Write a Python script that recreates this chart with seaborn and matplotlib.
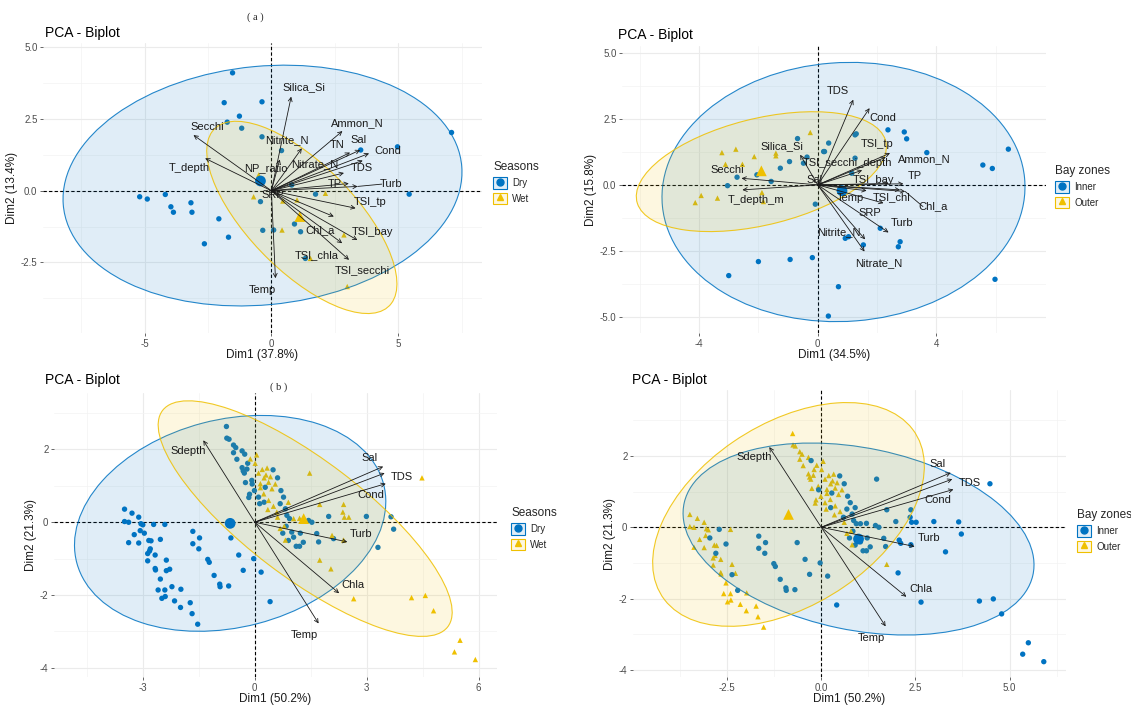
import numpy as np
import pandas as pd
import matplotlib
matplotlib.use("Agg")
import matplotlib.pyplot as plt
import seaborn as sns
from matplotlib.patches import Ellipse, Rectangle
from matplotlib.lines import Line2D
from matplotlib.legend_handler import HandlerTuple
from matplotlib.colors import to_rgba

sns.set_style("white")
plt.rcParams["font.family"] = ["Liberation Sans", "DejaVu Sans"]

BLUE = "#0073C2"
YELLOW = "#EFC000"

# ---------------- Panel A (top-left, Seasons) ----------------
a_dry_x = [-1.53, -1.86, -0.37, -1.26, -1.74, -1.17, -0.37, 0.40, 0.80, 1.74, 5.43, 4.97, 3.52, 7.10,
           -5.19, -4.89, -4.18, -3.96, -3.86, -3.17, -3.13, -2.07, -1.69, -2.64, -0.34, -0.43, 0.91, 1.15, 0.09, 1.34]
a_dry_y = [4.11, 3.07, 3.10, 2.60, 2.39, 2.18, 1.88, 1.40, 0.20, -0.12, -0.12, 1.53, 1.42, 2.03,
           -0.21, -0.29, -0.13, -0.56, -0.75, -0.42, -0.75, -0.98, -1.62, -1.85, -1.38, -0.38, -1.16, -1.43, -1.37, -2.36]
a_wet_x = [-0.70, -0.50, 0.45, 1.01, 2.13, 0.42, 1.54, 2.86, 2.99]
a_wet_y = [-0.21, 0.55, -0.36, -0.32, -0.09, -1.37, -2.36, -1.54, -3.34]
a_groups = ["Dry", "Wet"]
a_mean_x = [-0.43, 1.12]
a_mean_y = [0.34, -0.90]
a_ell_cx = [-0.35, 1.20]
a_ell_cy = [0.18, -0.93]
a_ell_a = [7.88, 4.63]
a_ell_b = [4.16, 1.96]
a_ell_ang = [4.75, -40.4]
a_vars = ["Silica_Si", "Ammon_N", "Nitrite_N", "TN", "Sal", "Cond", "TDS", "Nitrate_N", "NP_ratio",
          "TP", "Turb", "TSI_tp", "Chl_a", "TSI_bay", "TSI_chla", "TSI_secchi", "Temp", "Secchi", "T_depth", "SRP"]
a_load_x = [0.78, 2.80, 1.20, 3.10, 3.50, 3.85, 3.60, 2.86, 0.33, 3.05, 3.40, 3.32, 2.46, 3.39, 2.79, 3.06, 0.16, -3.07, -2.61, 0.15]
a_load_y = [3.28, 2.08, 1.48, 1.33, 1.42, 1.30, 1.05, 0.62, 1.09, 0.25, 0.15, -0.61, -0.90, -1.72, -1.83, -2.41, -3.05, 1.94, 1.13, -0.08]

# ---------------- Panel B (top-right, Bay zones) ----------------
b_inner_x = [-0.68, -0.36, 0.20, -2.05, -1.26, -0.95, -0.48, -2.72, -3.04, -1.57, -0.08, -2.00, -0.93, -0.18, -3.00,
             1.26, 1.30, 2.37, 2.92, 3.00, 3.68, 6.43, 5.57, 5.89, 0.37, 0.23, 1.26, 1.15, 2.11, 2.78, 2.72,
             0.93, 1.04, 1.54, 0.70, 0.36, 5.98]
b_inner_y = [1.75, 1.05, 1.26, 0.38, 0.63, 0.88, 0.82, 0.29, -0.03, 0.13, -0.73, -2.90, -2.82, -2.75, -3.43,
             1.89, 1.93, 2.08, 2.00, 1.74, 1.22, 1.35, 0.75, 0.62, 1.58, 1.26, 1.01, 0.44, -1.64, -2.15, -2.34,
             -2.02, -1.96, -2.27, -3.85, -4.96, -3.57]
b_outer_x = [-0.25, -1.41, -1.41, -2.14, -2.76, -3.23, -3.11, -2.54, -1.88, -1.83, -3.38, -3.93, -4.13]
b_outer_y = [1.98, 1.10, 1.20, 1.07, 1.35, 1.22, 0.78, 0.78, -0.29, -0.63, -0.50, -0.40, -0.67]
b_groups = ["Inner", "Outer"]
b_mean_x = [0.82, -1.90]
b_mean_y = [-0.22, 0.53]
b_ell_cx = [0.87, -1.90]
b_ell_cy = [-0.27, 0.50]
b_ell_a = [6.13, 4.35]
b_ell_b = [4.89, 2.00]
b_ell_ang = [5.0, 16.0]
b_vars = ["TDS", "Cond", "TSI_tp", "Ammon_N", "TSI_secchi_depth", "TSI_bay", "TP", "TSI_chl", "Chl_a",
          "Temp", "SRP", "Turb", "Nitrite_N", "Nitrate_N", "Silica_Si", "Secchi", "T_depth_m", "Sal"]
b_load_x = [1.20, 1.75, 2.44, 2.30, 1.50, 2.40, 2.89, 2.78, 2.95, 1.65, 2.22, 2.39, 1.60, 1.58, -0.59, -2.57, -2.54, 0.15]
b_load_y = [3.22, 2.90, 1.20, 1.05, 0.55, 0.05, 0.04, -0.19, -0.25, -0.22, -0.69, -1.80, -2.06, -2.52, 1.14, 0.25, -0.19, 0.08]

# ---------------- Panels C / D (bottom, same PCA) ----------------
dry_outer_x = [-3.49, -3.29, -3.11, -3.49, -3.38, -3.05, -3.00, -2.41, -3.07, -3.23, -3.38, -3.11, -2.84, -2.78, -2.82,
               -2.87, -2.67, -2.87, -2.37, -2.67, -2.66, -2.28, -2.53, -2.59, -2.41, -1.98, -2.49, -2.40, -2.15, -1.99,
               -1.73, -1.68, -1.53,
               -0.76, -0.75, -0.69, -0.57, -0.51, -0.57, -0.34, -0.48, -0.34, -0.31, -0.21, -0.25, -0.14, -0.16,
               -0.19, -0.28, -0.08, -0.01, 0.10, 0.13]
dry_outer_y = [0.36, 0.25, 0.14, 0.02, 0.00, -0.04, -0.07, -0.06, -0.23, -0.34, -0.56, -0.57, -0.50, -0.51, -0.79,
               -0.86, -0.90, -1.06, -1.04, -1.27, -1.31, -1.29, -1.56, -1.86, -1.86, -1.84, -2.09, -2.04, -2.16, -2.34,
               -2.21, -2.51, -2.80,
               2.63, 2.31, 2.28, 2.12, 2.05, 1.91, 1.96, 1.73, 1.50, 1.41, 1.46, 1.09, 0.77, 0.68,
               1.62, 1.35, 1.15, 0.87, 0.69, 0.51]
dry_inner_x = [-2.71, -2.96, -2.53, -2.80, -2.37, -2.22,
               -1.66, -1.48, -1.66, -1.50, -1.26, -1.22, -1.09, -0.94, -0.93, -0.70, -0.64, -0.43, -0.31, -0.03, 0.17, 0.41,
               -0.27, -0.07, 0.25, 0.28, 0.49, 0.61, 0.70, 0.77, 0.68, 0.82,
               0.86, 0.93, 0.84, 0.99, 1.04, 1.11, 1.20, 1.22, 1.44, 1.53, 1.66, 1.71, 1.98, 2.11, 2.99, 3.65, 3.72, 3.30,
               0.90, 1.30, 0.75]
dry_inner_y = [-0.06, -0.30, -0.47, -0.73, -1.33, -1.77,
               -0.25, -0.43, -0.59, -0.73, -1.02, -1.10, -1.46, -1.70, -1.77, -1.75, -0.43, -0.90, -1.32, -1.00, -1.37, -2.18,
               1.87, 1.05, 0.55, 0.96, 1.44, 1.22, 0.87, 0.69, 0.51, 0.37,
               0.19, 0.10, -0.11, -0.27, -0.41, -0.66, -0.66, -0.30, 0.05, 0.00, -0.31, -0.54, 0.16, -0.45, 0.16, 0.15, -0.19, -0.69,
               -0.50, -0.55, -0.30]
wet_outer_x = [-0.12, 0.01, 0.33, 0.10, 0.25, 0.37, 0.15, 0.46, 0.24, 0.37, 0.50, 0.61, 0.79, 0.68, 0.82,
               0.05, 0.20, 0.30, 0.42, 0.55, 0.15, 0.35, 1.74]
wet_outer_y = [1.74, 1.62, 1.49, 1.35, 1.22, 1.10, 1.06, 0.92, 0.78, 0.60, 0.44, 0.14, -0.11, -0.17, -0.49,
               1.85, 1.45, 1.30, 1.25, 1.05, 0.95, 0.35, -1.04]
wet_inner_x = [0.59, 1.04, 1.20, 0.90, 1.47, 1.74, 2.38, 2.36, 2.40, 2.52, 2.07, 2.38, 2.04, 2.65, 4.20, 4.57, 4.79,
               4.48, 5.50, 5.35, 5.91]
wet_inner_y = [0.28, 0.10, 0.11, 0.55, 1.35, 0.49, 0.49, 0.28, 0.14, 0.14, -0.36, -0.49, -1.28, -2.10, -2.07, -2.01,
               -2.43, 1.22, -3.24, -3.56, -3.77]
c_groups = ["Dry", "Wet"]
c_mean_x = [-0.66, 1.31]
c_mean_y = [-0.03, 0.10]
c_ell_cx = [-0.66, 1.35]
c_ell_cy = [-0.03, 0.10]
c_ell_a = [4.25, 4.84]
c_ell_b = [2.85, 1.60]
c_ell_ang = [15.0, -38.0]
d_groups = ["Inner", "Outer"]
d_mean_x = [0.99, -0.87]
d_mean_y = [-0.33, 0.36]
d_ell_cx = [0.99, -0.87]
d_ell_cy = [-0.33, 0.36]
d_ell_a = [4.74, 4.07]
d_ell_b = [2.55, 2.51]
d_ell_ang = [-12.5, 36.0]
cd_vars = ["Sdepth", "Sal", "TDS", "Cond", "Turb", "Chla", "Temp"]
cd_load_x = [-1.38, 3.44, 3.48, 3.51, 2.48, 2.26, 1.71]
cd_load_y = [2.25, 1.53, 1.35, 1.06, -0.54, -1.95, -2.78]

# tick labels
a_xticks = [-5, 0, 5]; a_xticklabels = ["-5", "0", "5"]
a_yticks = [-2.5, 0, 2.5, 5.0]; a_yticklabels = ["-2.5", "0.0", "2.5", "5.0"]
b_xticks = [-4, 0, 4]; b_xticklabels = ["-4", "0", "4"]
b_yticks = [-5, -2.5, 0, 2.5, 5]; b_yticklabels = ["-5.0", "-2.5", "0.0", "2.5", "5.0"]
c_xticks = [-3, 0, 3, 6]; c_xticklabels = ["-3", "0", "3", "6"]
c_yticks = [-4, -2, 0, 2]; c_yticklabels = ["-4", "-2", "0", "2"]
d_xticks = [-2.5, 0, 2.5, 5.0]; d_xticklabels = ["-2.5", "0.0", "2.5", "5.0"]
d_yticks = [-4, -2, 0, 2]; d_yticklabels = ["-4", "-2", "0", "2"]

# ---------------- layout (label placement, not data) ----------------
a_lab = {"Silica_Si": (1.30, 3.60), "Ammon_N": (3.40, 2.35), "Nitrite_N": (0.60, 1.77), "TN": (2.60, 1.58),
         "Sal": (3.42, 1.77), "Cond": (4.60, 1.38), "TDS": (3.55, 0.80), "Nitrate_N": (1.70, 0.93),
         "NP_ratio": (-0.20, 0.78), "TP": (2.50, 0.23), "Turb": (4.70, 0.23), "TSI_tp": (3.90, -0.38),
         "Chl_a": (1.90, -1.37), "TSI_bay": (4.00, -1.43), "TSI_chla": (1.80, -2.24), "TSI_secchi": (3.60, -2.76),
         "Temp": (-0.34, -3.47), "Secchi": (-2.54, 2.23), "T_depth": (-3.23, 0.78), "SRP": (0.05, -0.14)}
a_seg = ["Turb"]
b_lab = {"TDS": (0.67, 3.54), "Cond": (2.21, 2.53), "TSI_tp": (2.00, 1.54), "Ammon_N": (3.60, 0.97),
         "TSI_secchi_depth": (1.00, 0.82), "TSI_bay": (1.88, 0.19), "TP": (3.29, 0.34), "TSI_chl": (2.50, -0.48),
         "Chl_a": (3.90, -0.82), "Temp": (1.10, -0.50), "SRP": (1.75, -1.07), "Turb": (2.86, -1.45),
         "Nitrite_N": (0.70, -1.80), "Nitrate_N": (2.05, -2.97), "Silica_Si": (-1.21, 1.45), "Secchi": (-3.06, 0.57),
         "T_depth_m": (-2.07, -0.57), "Sal": (-0.10, 0.20)}
b_seg = ["Chl_a"]
cd_lab = {"Sdepth": (-1.78, 1.96), "Sal": (3.08, 1.77), "TDS": (3.95, 1.24), "Cond": (3.10, 0.76),
          "Turb": (2.86, -0.31), "Chla": (2.64, -1.72), "Temp": (1.34, -3.10)}

W, H = 1131, 706
fig = plt.figure(figsize=(W / 100, H / 100), dpi=100)


def rect(l, t, r, b):
    return [l / W, 1 - b / H, (r - l) / W, (b - t) / H]


def make_df(groups, xs, ys, col):
    parts = []
    for g, x, y in zip(groups, xs, ys):
        parts.append(pd.DataFrame({"Dim1": x, "Dim2": y, col: g}))
    return pd.concat(parts, ignore_index=True)


def draw_panel(ax, df, col, groups, mean_x, mean_y, ell, vars_, lx, ly, lab, seg,
               xlim, ylim, xt, xtl, yt, ytl, xminor, yminor, xlabel, ylabel):
    pal = {groups[0]: BLUE, groups[1]: YELLOW}
    mk = {groups[0]: "o", groups[1]: "^"}
    sns.scatterplot(data=df, x="Dim1", y="Dim2", hue=col, style=col, hue_order=groups, style_order=groups,
                    palette=pal, markers=mk, s=15, linewidth=0, legend=False, ax=ax, zorder=2)
    mdf = pd.DataFrame({"Dim1": mean_x, "Dim2": mean_y, col: groups})
    sns.scatterplot(data=mdf, x="Dim1", y="Dim2", hue=col, style=col, hue_order=groups, style_order=groups,
                    palette=pal, markers=mk, s=60, linewidth=0, legend=False, ax=ax, zorder=4)
    cx, cy, ea, eb, ang = ell
    for i, g in enumerate(groups):
        c = pal[g]
        e = Ellipse((cx[i], cy[i]), 2 * ea[i], 2 * eb[i], angle=ang[i],
                    facecolor=to_rgba(c, 0.12), edgecolor=to_rgba(c, 0.85), lw=0.8, zorder=3)
        ax.add_patch(e)
    ax.axhline(0, ls=(0, (3, 2)), color="black", lw=0.8, zorder=1.5)
    ax.axvline(0, ls=(0, (3, 2)), color="black", lw=0.8, zorder=1.5)
    for v, x, y in zip(vars_, lx, ly):
        ax.annotate("", xy=(x, y), xytext=(0, 0),
                    arrowprops=dict(arrowstyle="->", color="#1a1a1a", lw=0.6, shrinkA=0, shrinkB=0,
                                    mutation_scale=7), zorder=5)
        tx, ty = lab[v]
        if v in seg:
            ax.plot([x, tx - 0.35], [y, ty], color="#1a1a1a", lw=0.6, zorder=5)
        ax.text(tx, ty, v, fontsize=8, color="#1a1a1a", ha="center", va="center", zorder=6)
    ax.set_xlim(*xlim)
    ax.set_ylim(*ylim)
    ax.set_xticks(xt)
    ax.set_xticklabels(xtl)
    ax.set_yticks(yt)
    ax.set_yticklabels(ytl)
    ax.set_xticks(xminor, minor=True)
    ax.set_yticks(yminor, minor=True)
    ax.grid(which="major", color="#ebebeb", lw=0.8)
    ax.grid(which="minor", color="#f3f3f3", lw=0.5)
    ax.set_axisbelow(True)
    for s in ax.spines.values():
        s.set_visible(False)
    ax.tick_params(which="major", labelsize=7, labelcolor="#4d4d4d", color="#4d4d4d",
                   length=2.5, width=0.6, pad=1.5, left=True, bottom=True)
    ax.tick_params(which="minor", length=0)
    ax.set_xlabel(xlabel, fontsize=8.5, color="#1a1a1a", labelpad=0)
    ax.set_ylabel(ylabel, fontsize=8.5, color="#1a1a1a", labelpad=2)


def add_legend(ax, title, groups, x, y):
    pal = [BLUE, YELLOW]
    mk = ["o", "^"]
    handles = []
    for c, m in zip(pal, mk):
        r = Rectangle((0, 0), 1, 1, facecolor=to_rgba(c, 0.12), edgecolor=c, lw=0.8)
        l = Line2D([], [], marker=m, color=c, ls="", markersize=5)
        handles.append((r, l))
    leg = ax.legend(handles, groups, handler_map={tuple: HandlerTuple(ndivide=1, pad=0)},
                    title=title, loc="upper left", bbox_to_anchor=(x / W, 1 - y / H),
                    bbox_transform=fig.transFigure, frameon=False, fontsize=7,
                    title_fontsize=8.5, handlelength=1.4, handleheight=1.4, handletextpad=0.6,
                    labelspacing=0.45, borderpad=0, borderaxespad=0)
    leg._legend_box.align = "left"


# Panel A
axA = fig.add_axes(rect(43, 43, 482, 333))
dfA = make_df(a_groups, [a_dry_x, a_wet_x], [a_dry_y, a_wet_y], "Seasons")
draw_panel(axA, dfA, "Seasons", a_groups, a_mean_x, a_mean_y,
           (a_ell_cx, a_ell_cy, a_ell_a, a_ell_b, a_ell_ang), a_vars, a_load_x, a_load_y, a_lab, a_seg,
           (-9.0, 8.3), (-4.96, 5.15), a_xticks, a_xticklabels, a_yticks, a_yticklabels,
           [-7.5, -2.5, 2.5, 7.5], [-3.75, -1.25, 1.25, 3.75], "Dim1 (37.8%)", "Dim2 (13.4%)")
add_legend(axA, "Seasons", a_groups, 493, 161)

# Panel B
axB = fig.add_axes(rect(622, 46, 1046, 333))
dfB = make_df(b_groups, [b_inner_x, b_outer_x], [b_inner_y, b_outer_y], "Bay zones")
draw_panel(axB, dfB, "Bay zones", b_groups, b_mean_x, b_mean_y,
           (b_ell_cx, b_ell_cy, b_ell_a, b_ell_b, b_ell_ang), b_vars, b_load_x, b_load_y, b_lab, b_seg,
           (-6.6, 7.7), (-5.6, 5.25), b_xticks, b_xticklabels, b_yticks, b_yticklabels,
           [-6, -2, 2, 6], [-3.75, -1.25, 1.25, 3.75], "Dim1 (34.5%)", "Dim2 (15.8%)")
add_legend(axB, "Bay zones", b_groups, 1055, 165)

# bottom data frame shared by C and D
bx = [dry_outer_x, dry_inner_x, wet_outer_x, wet_inner_x]
by = [dry_outer_y, dry_inner_y, wet_outer_y, wet_inner_y]
seasons = ["Dry", "Dry", "Wet", "Wet"]
zones = ["Outer", "Inner", "Outer", "Inner"]
dfCD = pd.concat([pd.DataFrame({"Dim1": x, "Dim2": y, "Seasons": s, "Bay zones": z})
                  for x, y, s, z in zip(bx, by, seasons, zones)], ignore_index=True)

# Panel C
axC = fig.add_axes(rect(54, 393, 497, 677))
draw_panel(axC, dfCD, "Seasons", c_groups, c_mean_x, c_mean_y,
           (c_ell_cx, c_ell_cy, c_ell_a, c_ell_b, c_ell_ang), cd_vars, cd_load_x, cd_load_y, cd_lab, [],
           (-5.38, 6.49), (-4.25, 3.55), c_xticks, c_xticklabels, c_yticks, c_yticklabels,
           [-4.5, -1.5, 1.5, 4.5], [-3, -1, 1, 3], "Dim1 (50.2%)", "Dim2 (21.3%)")
add_legend(axC, "Seasons", c_groups, 511, 507)

# Panel D
axD = fig.add_axes(rect(633, 390, 1066, 677))
draw_panel(axD, dfCD, "Bay zones", d_groups, d_mean_x, d_mean_y,
           (d_ell_cx, d_ell_cy, d_ell_a, d_ell_b, d_ell_ang), cd_vars, cd_load_x, cd_load_y, cd_lab, [],
           (-5.0, 6.5), (-4.2, 3.85), d_xticks, d_xticklabels, d_yticks, d_yticklabels,
           [-3.75, -1.25, 1.25, 3.75, 6.25], [-3, -1, 1, 3], "Dim1 (50.2%)", "Dim2 (21.3%)")
add_legend(axD, "Bay zones", d_groups, 1077, 509)

# titles and panel tags
for (x, y) in [(45, 33), (618, 35), (45, 380), (632, 380)]:
    fig.text(x / W, 1 - y / H, "PCA - Biplot", fontsize=10, color="black", ha="left", va="center")
fig.text(255 / W, 1 - 17 / H, "( a )", fontsize=7.5, family=["Liberation Serif", "DejaVu Serif"],
         ha="center", va="center")
fig.text(279 / W, 1 - 387 / H, "( b )", fontsize=7.5, family=["Liberation Serif", "DejaVu Serif"],
         ha="center", va="center")

fig.savefig("out.png", dpi=100)
